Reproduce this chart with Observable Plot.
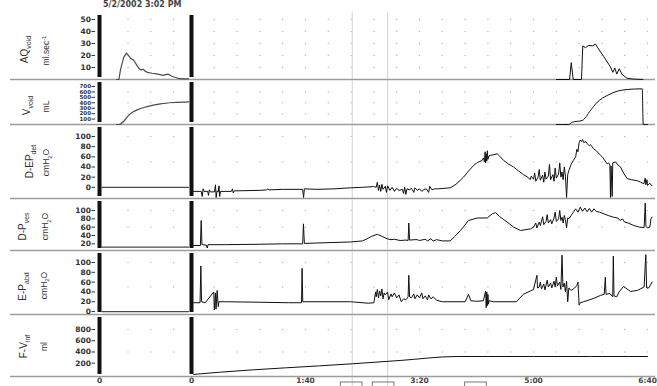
<!DOCTYPE html>
<html><head><meta charset="utf-8">
<script src="https://cdn.jsdelivr.net/npm/d3@7"></script>
<script src="https://cdn.jsdelivr.net/npm/@observablehq/plot@0.6"></script>
<style>
body{margin:0;background:#fff;width:657px;height:386px;overflow:hidden}
#chart svg{display:block}
#date{height:12px;position:relative;overflow:hidden}
#date span{position:absolute;left:103px;top:0px;font:bold 8px "DejaVu Sans",sans-serif;color:#444;white-space:nowrap;line-height:9px}
</style></head>
<body><div id="date"><span></span></div><div id="chart"></div>
<script>
// ---------- text ----------
const dateLabel = "5/2/2002 3:02 PM";
const freeTimeTicks = [0];
const freeTimeLabels = ["0"];
const mainTimeTicks = [0, 100, 200, 300, 400];
const mainTimeLabels = ["0", "1:40", "3:20", "5:00", "6:40"];
const eventTimes = [141, 172];
const eventBoxes = [[131, 150], [159, 178], [240, 259]];

// ---------- tick labels ----------
const qTicks = [10, 20, 30, 40, 50];
const vTicks = [100, 200, 300, 400, 500, 600, 700];
const pdetTicks = [0, 20, 40, 60, 80, 100];
const pvesTicks = [20, 40, 60, 80, 100];
const pabdTicks = [0, 20, 40, 60, 80, 100];
const vinfTicks = [200, 400, 600, 800];

// ---------- free uroflow (own clock, seconds) ----------
const qFree = [[15,0],[17,0],[18.4,8],[20,14],[21.5,19],[23.7,22],[25,20.5],[27,18],[30,16],[32,13],[34,10],[36,8],[38.6,8.5],[40,7],[42,6],[46,5.2],[51,4.5],[56,3.5],[58,4],[60,4.5],[62,3.5],[64,2.5],[69,1],[74,0.6],[78,0.5]];
const vFree = [[15,0],[17,0],[21.3,60],[24,130],[27.2,200],[33,270],[41.8,330],[53.5,380],[65.2,405],[78.3,418]];
const pdetFree = [[2,0],[78,0]];
const pvesFree = [[2,12],[78,12]];
const pabdFree = [[2,0],[78,0]];

// ---------- cystometry (main clock, seconds) ----------
const qMain = [[320,0],[331.6,0],[333.1,14],[334.8,0],[342.1,0],[343.2,28],[345.6,26.5],[348.5,28.5],[351.5,28],[354.4,29.5],[355.9,27],[361.7,19],[367.5,10.5],[369.6,6],[371.3,9.5],[373.1,4.5],[375.2,9],[377.8,4],[382.2,1],[388,0.3],[396,0]];
const vMain = [[320,0],[331,0],[334,42],[342.7,74],[350,258],[355.9,411],[364.6,534],[373.4,613],[382.2,645],[395.4,657],[396.2,0],[400,0]];
const pdetMain = [[1.8,-8],[8.5,-8],[9.4,-18],[10.2,-3],[11,-8],[14.2,-8],[14.9,-16],[15.6,-5],[16.5,-9],[20.2,-9],[21,5],[21.6,-20],[22.4,-7],[23.5,-9],[24.1,3],[24.7,-18],[25.5,-8],[35,-8],[36,-3],[36.6,-11],[37.5,-7],[60,-6],[66,-5],[67,-3],[68,-5],[80,-4],[95,-4],[97.5,-4],[98.3,-20],[99,-3],[110,-4],[125,-3],[139.5,-1],[150,0],[159.6,1.5],[162,0],[163,10],[164,-6],[165,4],[166,-8],[167,6],[168,-4],[170,2],[171,-10],[172,3],[174,-6],[176,0],[178,-8],[180,-2],[182,-6],[185,-4],[186,-12],[187,0],[188,-14],[189,-3],[191,-5],[193,-2],[195,-10],[196,-1],[198,-6],[200,-3],[202,-8],[204,-4],[206,-3],[208,-10],[209,2],[211,-5],[213,-3],[216,-3],[227,-1],[232,6],[238.6,20],[243,32],[247.4,43],[251,49],[255,53],[256,58],[257,50],[257.5,70],[258,48],[258.5,66],[259,52],[259.5,72],[260,55],[261,62],[262.3,63],[265,64],[268.2,66],[270,62],[273.7,53],[278,46],[282.5,40],[287,32],[291.2,25],[295,20],[297,15],[298,22],[300,16],[301,28],[302,12],[304,20],[305,35],[306,14],[308,24],[309,10],[310,30],[311,16],[313,22],[314,45],[315,15],[317,25],[318,12],[319,38],[320,18],[322,26],[323,48],[324,20],[325,30],[326,15],[327,40],[328,22],[329,-20],[330,25],[331,33],[333,45],[335,53],[337,60],[338,75],[339,70],[340,88],[341,93],[342,90],[343,94],[344,88],[346,90],[347,86],[349,82],[350,84],[352.6,76],[355,72],[358.8,63],[361,58],[364.6,46],[366,48],[367,44],[367.5,-20],[368,42],[369,-18],[369.5,48],[372,50],[374,44],[376.3,40],[379,28],[382.2,17],[386,15],[391,13],[394,10],[396.8,7],[398,18],[398.5,5],[399.5,15],[400,4],[402,8],[404,3]];
const pvesMain = [[1.8,16],[7.8,16],[8.5,76],[9.2,18],[13,17],[13.8,10],[14.5,18],[30,18],[60,19],[80,20],[97.5,20],[98.2,68],[99,21],[110,22],[139.5,24.5],[150,27],[154,32],[158,38],[163,43],[167,38],[171.7,32],[175,30],[178,31],[183,28],[188,29],[190,28],[190.6,70],[191.3,29],[196,30],[198,30],[200,28],[205,31],[207,27],[210,32],[212,27],[215,30],[220,27],[227,27],[231,38],[236,52],[243,76],[250.6,82],[259.4,82],[263.8,92],[266.7,95],[270,86],[274,78],[282.7,60],[288.6,52],[297.4,56],[300,60],[302,70],[303,58],[305,72],[306,64],[308,85],[309,66],[311,74],[312,90],[313,70],[315,78],[316,68],[318,82],[319,96],[320,74],[322,80],[323,100],[324,76],[325,84],[326,70],[327,88],[328,78],[329,58],[330,82],[331,80],[333,88],[335,96],[337,104],[339,96],[341,108],[343,98],[345,106],[347,97],[349,105],[351,96],[353,104],[355,98],[358,96],[365.5,88],[370,84],[374,82],[376,76],[378,80],[380,72],[383,70],[388,64],[393,60],[397,59],[398,118],[398.6,62],[400,58],[402,60],[403,80],[404,84]];
const pabdMain = [[1.8,18],[7.5,18],[8.2,93],[8.8,20],[12,18],[19.5,40],[20,3],[21,38],[21.5,5],[22.5,43],[23.5,10],[24,20],[30,20],[60,19],[85,18],[96.5,18],[97,88],[97.6,20],[139.5,20],[155,17],[160,18],[161.5,40],[162,30],[163,45],[164,28],[165,42],[166,32],[167,46],[168,26],[169,38],[170,34],[172,40],[173,24],[175,36],[176,30],[178,38],[180,28],[182,34],[184,20],[186,26],[188,24],[190,30],[190.6,74],[191.3,30],[193,28],[195,36],[196,26],[198,34],[200,28],[202,38],[203,26],[205,32],[207,24],[208,34],[210,26],[212,30],[215,23],[220,20],[240,20],[243,35],[245,22],[250,21],[256,22],[258,42],[258.5,8],[259,40],[259.5,12],[260,35],[260.5,15],[261,22],[265,20],[275,20],[285,20],[291,35],[300,45],[303,74],[303.5,48],[305,50],[306,60],[307,46],[309,56],[310,44],[312,64],[313,50],[315,58],[316,48],[318,62],[319,50],[320,70],[321,52],[323,60],[324,45],[325,115],[325.8,50],[327,58],[328,40],[329,62],[330,20],[331,48],[333,43],[336,48],[338,53],[339,60],[340,13],[341,18],[344,20],[353,27],[358.8,33],[362,35],[363,70],[363.6,35],[367,37],[369.5,30],[370,113],[370.6,32],[373,30],[375,40],[379,51],[385,41],[391,43],[397,50],[398.5,116],[399.2,48],[401,48],[404,60]];
const vinfMain = [[2,0],[8,12],[25.4,41],[141,190],[183,249],[233,320],[300,320],[400,320]];

// ---------- layout ----------
document.querySelector("#date span").textContent = dateLabel;
const W = 657;
const xDomain = [-158.77, 407.0];
const freeOffset = -80.7;           // where the free-flow clock's zero sits on the shared axis
const shift = arr => arr.map(([t, v]) => [t + freeOffset, v]);
const mainGridX = d3.range(20, 401, 20);
const freeGridX = [25, 45, 65].map(t => t + freeOffset);
const gridX = freeGridX.concat(mainGridX);

const panels = [
  {height:68, mt:7, mb:1, domain:[0,50], ticks:qTicks, rows:[10,20,30,40,50], label:"AQ_{void}", unit:"ml.sec^{-1}", lab:[14,0], uni:[36,1], free:qFree, main:qMain, curve:"linear", tfs:7.5},
  {height:45, mt:6, mb:1, domain:[0,700], ticks:vTicks, rows:[200,400,600], label:"V_{void}", unit:"mL", lab:[16,0], uni:[36,1], free:vFree, main:vMain, curve:"monotone-x", tfs:5.5},
  {height:74, mt:11, mb:1, domain:[-22,100], ticks:pdetTicks, rows:[50,100], label:"D-EP_{det}", unit:"cmH_{2}O", lab:[19,-6], uni:[36,-5], free:pdetFree, main:pdetMain, curve:"linear", tfs:7.5},
  {height:52, mt:11, mb:1, domain:[4,100], ticks:pvesTicks, rows:[60,100], label:"D-P_{ves}", unit:"cmH_{2}O", lab:[12,-4], uni:[35,-4], free:pvesFree, main:pvesMain, curve:"linear", tfs:7.5},
  {height:64, mt:11, mb:1, domain:[-6,100], ticks:pabdTicks, rows:[50,100], label:"E-P_{abd}", unit:"cmH_{2}O", lab:[12,-2], uni:[33.5,-3], free:pabdFree, main:pabdMain, curve:"linear", tfs:7.5},
  {height:71, mt:14, mb:10, domain:[-36,800], ticks:vinfTicks, rows:[400,800], label:"F-V_{inf}", unit:"ml", lab:[13,-6.5], uni:[33.5,-6.5], free:null, main:vinfMain, curve:"monotone-x", tfs:7.5, axis:true}
];

const timeTable = freeTimeTicks.map((t,i)=>({t:t+freeOffset, s:freeTimeLabels[i]}))
  .concat(mainTimeTicks.map((t,i)=>({t, s:mainTimeLabels[i]})));

const tickFont = '"DejaVu Sans", sans-serif';
const labFont = '"Liberation Sans", Arial, sans-serif';
const SUB = 0.7;

function richText(svg) {
  svg.querySelectorAll("text").forEach(el => {
    const s = el.textContent;
    if (!/[_^]\{/.test(s)) return;
    while (el.firstChild) el.removeChild(el.firstChild);
    const re = /([_^])\{([^}]*)\}/g;
    let last = 0, m, shifted = 0;
    const add = (txt, kind) => {
      if (!txt) return;
      const ts = document.createElementNS("http://www.w3.org/2000/svg", "tspan");
      ts.textContent = txt;
      const target = kind === "_" ? 0.3 : kind === "^" ? -0.4 : 0;
      if (kind) ts.setAttribute("font-size", (SUB * 100) + "%");
      const dy = target - shifted;  // in parent em
      if (dy !== 0) ts.setAttribute("dy", (kind ? dy / SUB : dy) + "em");
      shifted = target;
      el.appendChild(ts);
    };
    while ((m = re.exec(s))) {
      add(s.slice(last, m.index), null);
      add(m[2], m[1]);
      last = re.lastIndex;
    }
    add(s.slice(last), null);
  });
}

const chart = document.getElementById("chart");
for (const p of panels) {
  const grid = [];
  for (const gx of gridX) for (const gy of p.rows) grid.push([gx, gy]);
  const marks = [
    Plot.dot(grid, {x: d => d[0], y: d => d[1], r: 0.7, fill: "#b5b5b5", stroke: null}),
    Plot.ruleX(eventTimes, {stroke: "#d2d2d2", strokeWidth: 1, insetTop: -p.mt, insetBottom: -p.mb}),
    Plot.ruleY([p.domain[0]], {stroke: "#9c9c9c", strokeWidth: 1.7}),
    Plot.ruleX([freeOffset, 0], {stroke: "#111", strokeWidth: 4, insetTop: (p.mt === 7 ? 3 : 2) - p.mt, insetBottom: 2}),
    Plot.ruleY(p.ticks, {x1: () => freeOffset, x2: () => freeOffset, y: d => d, insetLeft: -7.5, insetRight: 4, stroke: "#333", strokeWidth: 1}),
    Plot.text(p.ticks, {x: () => freeOffset, y: d => d, text: d => String(d), dx: -8.5, textAnchor: "end", fontSize: p.tfs, fontWeight: "bold", fontFamily: tickFont, fill: "#333"}),
    Plot.text([p.label], {frameAnchor: "left", dx: p.lab[0], dy: p.lab[1], rotate: -90, textAnchor: "middle", fontSize: 10, fontFamily: labFont, fill: "#333"}),
    Plot.text([p.unit], {frameAnchor: "left", dx: p.uni[0], dy: p.uni[1], rotate: -90, textAnchor: "middle", fontSize: 8.5, fontFamily: labFont, fill: "#333"})
  ];
  if (p.free) marks.push(Plot.line(shift(p.free), {x: d => d[0], y: d => d[1], stroke: "#4a4a4a", strokeWidth: 1.2, curve: p.curve}));
  marks.push(Plot.line(p.main, {x: d => d[0], y: d => d[1], stroke: "#111", strokeWidth: 1, curve: p.curve}));
  if (p.axis) {
    marks.push(Plot.text(timeTable, {x: "t", text: "s", frameAnchor: "bottom", lineAnchor: "top", dy: 1.5, fontSize: 7.5, fontWeight: "bold", fontFamily: tickFont, fill: "#444"}));
    marks.push(Plot.rect(eventBoxes, {x1: d => d[0], x2: d => d[1], fill: "none", stroke: "#777", strokeWidth: 1, insetTop: 53, insetBottom: -14}));
  }
  const svg = Plot.plot({
    width: W, height: p.height,
    marginLeft: 10, marginRight: 2, marginTop: p.mt, marginBottom: p.mb,
    x: {domain: xDomain, axis: null},
    y: {domain: p.domain, axis: null},
    style: {background: "transparent", overflow: "visible"},
    marks
  });
  richText(svg);
  chart.appendChild(svg);
}
</script>
</body></html>
